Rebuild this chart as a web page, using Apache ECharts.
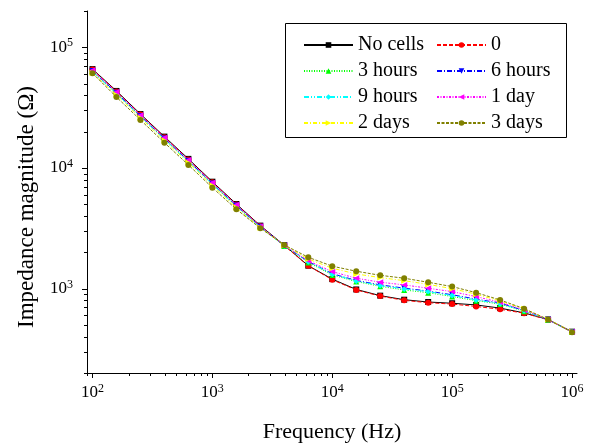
<!DOCTYPE html>
<html>
<head>
<meta charset="utf-8">
<script src="https://cdn.jsdelivr.net/npm/echarts@6/dist/echarts.min.js"></script>
<style>html,body{margin:0;padding:0;background:#fff}#c{width:593px;height:448px}</style>
</head>
<body>
<div id="c"></div>
<script>
// ---- data ----
const freq = [100, 158.5, 251.2, 398.1, 631, 1000, 1585, 2512, 3981, 6310, 10000, 15850, 25120, 39810, 63100, 100000, 158500, 251200, 398100, 631000, 1000000];
const noCells = [66000, 43500, 28000, 18200, 11900, 7700, 5030, 3330, 2290, 1550, 1200, 985, 875, 810, 775, 757, 733, 690, 630, 555, 440];
const day0    = [65500, 43000, 27700, 18000, 11750, 7600, 4980, 3300, 2270, 1545, 1185, 975, 868, 800, 765, 745, 712, 675, 626, 552, 437];
const h3      = [63000, 41500, 26750, 17380, 11370, 7350, 4830, 3240, 2260, 1650, 1300, 1145, 1045, 975, 925, 860, 795, 745, 650, 552, 437];
const h6      = [63700, 42000, 27000, 17550, 11480, 7430, 4880, 3260, 2270, 1680, 1330, 1170, 1075, 1010, 955, 890, 820, 760, 658, 553, 438];
const h9      = [62700, 41300, 26600, 17300, 11300, 7320, 4800, 3230, 2270, 1675, 1317, 1159, 1060, 995, 945, 876, 806, 750, 655, 552, 437];
const d1      = [64700, 42600, 27400, 17800, 11650, 7550, 4950, 3290, 2280, 1700, 1384, 1220, 1131, 1074, 1008, 945, 859, 772, 666, 553, 438];
const d2      = [61400, 40300, 26000, 16900, 11050, 7150, 4700, 3200, 2290, 1760, 1477, 1324, 1235, 1165, 1085, 1000, 900, 790, 680, 555, 440];
const d3      = [61000, 38700, 25000, 16200, 10600, 6870, 4550, 3170, 2300, 1820, 1535, 1395, 1290, 1220, 1130, 1040, 927, 806, 683, 556, 436];

const seriesNames = ['No cells', '0', '3 hours', '6 hours', '9 hours', '1 day', '2 days', '3 days'];
const seriesValues = [noCells, day0, h3, h6, h9, d1, d2, d3];

// axis ranges and ticks
const X_MIN = 90, X_MAX = 1.1e6;
const Y_MIN = 200, Y_MAX = 2e5;
const xMajorTicks = [100, 1000, 10000, 100000, 1000000];
const xMinorTicks = [90, 200, 300, 400, 500, 600, 700, 800, 900,
  2000, 3000, 4000, 5000, 6000, 7000, 8000, 9000,
  20000, 30000, 40000, 50000, 60000, 70000, 80000, 90000,
  200000, 300000, 400000, 500000, 600000, 700000, 800000, 900000];
const yMajorTicks = [1000, 10000, 100000];
const yMinorTicks = [200, 300, 400, 500, 600, 700, 800, 900,
  2000, 3000, 4000, 5000, 6000, 7000, 8000, 9000,
  20000, 30000, 40000, 50000, 60000, 70000, 80000, 90000, 200000];

// ---- styles ----
const FONT = 'Liberation Serif';
const styles = [
  {color: '#000000', symbol: 'rect',     dash: 'solid'},
  {color: '#ff0000', symbol: 'circle',   dash: [4, 2]},
  {color: '#00ff00', symbol: 'triangle', dash: [1, 1.5]},
  {color: '#0000ff', symbol: 'path://M0,0 L10,0 L5,10 Z', dash: [5, 2, 1, 2]},
  {color: '#00ffff', symbol: 'diamond',  dash: [5, 2, 1, 2, 1, 2]},
  {color: '#ff00ff', symbol: 'path://M10,0 L10,10 L0,5 Z', dash: [2, 1.5, 1, 1.5]},
  {color: '#ffff00', symbol: 'path://M0,0 L0,10 L10,5 Z', dash: [4, 2, 1, 2]},
  {color: '#808000', symbol: 'circle',   dash: [3, 1.5]}
];

function powLabel(v) {
  const e = Math.round(Math.log10(v));
  return '{b|10}{s|' + e + '}';
}
const richLabel = {
  b: {fontFamily: FONT, fontSize: 17, color: '#000', lineHeight: 20},
  s: {fontFamily: FONT, fontSize: 12, color: '#000', verticalAlign: 'top'}
};

const lineSeries = seriesNames.map((name, i) => ({
  name: name,
  type: 'line',
  data: freq.map((f, j) => [f, seriesValues[i][j]]),
  symbol: styles[i].symbol,
  symbolSize: 6,
  showSymbol: true,
  lineStyle: {color: styles[i].color, width: 1, type: styles[i].dash},
  itemStyle: {color: styles[i].color},
  z: 3 + i,
  animation: false
}));

const xTickData = xMajorTicks.map(v => [v, Y_MIN, 1]).concat(xMinorTicks.map(v => [v, Y_MIN, 0]));
const yTickData = yMajorTicks.map(v => [X_MIN, v, 1]).concat(yMinorTicks.map(v => [X_MIN, v, 0]));

const tickSeries = [
  {
    type: 'custom', silent: true, animation: false, z: 1, clip: false,
    data: xTickData,
    renderItem: function (params, api) {
      const p = api.coord([api.value(0), api.value(1)]);
      const len = api.value(2) ? 5 : 3;
      const x = Math.round(p[0]) + 0.5;
      return {type: 'line', shape: {x1: x, y1: p[1], x2: x, y2: p[1] + len}, style: {stroke: '#000', lineWidth: 1}};
    }
  },
  {
    type: 'custom', silent: true, animation: false, z: 1, clip: false,
    data: yTickData,
    renderItem: function (params, api) {
      const p = api.coord([api.value(0), api.value(1)]);
      const len = api.value(2) ? 5 : 3;
      const y = Math.round(p[1]) + 0.5;
      return {type: 'line', shape: {x1: p[0], y1: y, x2: p[0] - len, y2: y}, style: {stroke: '#000', lineWidth: 1}};
    }
  }
];

const legendCommon = {
  orient: 'vertical',
  itemWidth: 49,
  itemHeight: 7,
  itemGap: 6,
  padding: 0,
  selectedMode: false,
  textStyle: {fontFamily: FONT, fontSize: 20, color: '#000'}
};

const chart = echarts.init(document.getElementById('c'), null, {renderer: 'canvas'});
chart.setOption({
  animation: false,
  backgroundColor: '#ffffff',
  grid: {left: 87, right: 16, top: 11, bottom: 75, containLabel: false},
  xAxis: {
    type: 'log', logBase: 10, min: X_MIN, max: X_MAX,
    axisLine: {onZero: false, lineStyle: {color: '#000', width: 1}},
    axisTick: {show: false},
    splitLine: {show: false},
    axisLabel: {
      margin: 10, showMinLabel: false, showMaxLabel: false,
      formatter: v => (xMajorTicks.indexOf(Math.round(v)) >= 0 ? powLabel(v) : ''),
      rich: richLabel
    },
    name: 'Frequency (Hz)', nameLocation: 'middle', nameGap: 48,
    nameTextStyle: {fontFamily: FONT, fontSize: 22, color: '#000'}
  },
  yAxis: {
    type: 'log', logBase: 10, min: Y_MIN, max: Y_MAX,
    axisLine: {show: true, onZero: false, lineStyle: {color: '#000', width: 1}},
    axisTick: {show: false},
    splitLine: {show: false},
    axisLabel: {
      margin: 14, showMinLabel: false, showMaxLabel: false,
      formatter: v => (yMajorTicks.indexOf(Math.round(v)) >= 0 ? powLabel(v) : ''),
      rich: richLabel
    },
    name: 'Impedance magnitude (Ω)', nameLocation: 'middle', nameGap: 49,
    nameTextStyle: {fontFamily: FONT, fontSize: 23, color: '#000', padding: [0, 30, 0, 0]}
  },
  legend: [
    Object.assign({}, legendCommon, {data: ['No cells', '3 hours', '9 hours', '2 days'], left: 303, top: 35}),
    Object.assign({}, legendCommon, {data: ['0', '6 hours', '1 day', '3 days'], left: 436, top: 35})
  ],
  graphic: [
    {type: 'rect', shape: {x: 285.5, y: 23.5, width: 281, height: 114}, style: {fill: 'none', stroke: '#000', lineWidth: 1}, z: 10}
  ],
  series: lineSeries.concat(tickSeries)
});
</script>
</body>
</html>
